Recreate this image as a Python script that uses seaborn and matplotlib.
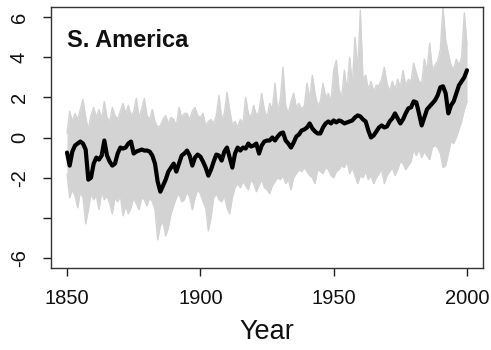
import numpy as np
import pandas as pd
import matplotlib
matplotlib.use("Agg")
import matplotlib.pyplot as plt
import seaborn as sns

# Annual temperature anomalies, South America, 1850-2000
years = list(range(1850, 2001))

# Reconstruction (thick black line)
recon = [
    -0.75, -1.4, -0.7, -0.4, -0.3, -0.2, -0.3, -0.6, -2.1, -2.0,   # 1850s
    -1.3, -1.0, -1.1, -0.9, -0.15, -0.9, -1.2, -1.4, -1.3, -0.8,   # 1860s
    -0.5, -0.55, -0.5, -0.3, -0.2, -0.8, -0.7, -0.65, -0.6, -0.65, # 1870s
    -0.65, -0.7, -0.9, -1.3, -2.2, -2.7, -2.4, -2.1, -1.7, -1.5,   # 1880s
    -1.3, -1.7, -1.3, -0.9, -0.8, -0.65, -0.9, -1.4, -1.0, -0.85,  # 1890s
    -0.95, -1.2, -1.5, -1.9, -1.6, -1.2, -0.85, -0.9, -1.15, -0.7, # 1900s
    -0.5, -1.0, -1.5, -0.8, -0.5, -0.65, -0.5, -0.55, -0.3, -0.45, # 1910s
    -0.4, -0.3, -0.8, -0.4, -0.2, -0.15, -0.15, 0.0, -0.15, 0.05,  # 1920s
    0.2, 0.25, -0.15, -0.3, -0.5, -0.25, 0.05, 0.15, 0.35, 0.4,    # 1930s
    0.5, 0.7, 0.45, 0.3, 0.2, 0.2, 0.5, 0.7, 0.8, 0.7,             # 1940s
    0.85, 0.75, 0.85, 0.8, 0.7, 0.75, 0.8, 0.85, 1.0, 1.1,         # 1950s
    1.05, 0.9, 0.8, 0.35, 0.0, 0.1, 0.3, 0.5, 0.6, 0.5,            # 1960s
    0.55, 0.8, 0.95, 1.2, 0.95, 0.7, 0.9, 1.2, 1.45, 1.5,          # 1970s
    1.8, 1.75, 1.2, 0.6, 1.0, 1.4, 1.55, 1.7, 1.85, 2.1,           # 1980s
    2.5, 2.55, 2.2, 1.2, 1.6, 1.8, 2.2, 2.6, 2.8, 3.0,             # 1990s
    3.35,                                                          # 2000
]

# Upper edge of the ensemble spread (grey)
ens_upper = [
    0.2, 1.3, 0.8, 1.2, 0.9, 1.4, 1.9, 1.0, 0.4, 1.1,
    1.5, 1.0, 1.4, 0.9, 1.8, 1.0, 0.8, 1.5, 1.1, 0.9,
    1.3, 1.7, 1.2, 1.6, 1.1, 1.3, 1.95, 1.0, 1.4, 1.95,
    1.1, 0.9, 1.4, 0.8, 0.5, 0.6, 0.9, 1.1, 0.7, 1.0,
    0.9, 0.6, 1.5, 1.0, 1.2, 1.2, 0.9, 1.3, 1.5, 1.1,
    1.0, 1.2, 0.6, 0.8, 0.9, 0.7, 1.1, 2.1, 0.9, 1.2,
    2.25, 1.4, 0.6, 0.8, 0.5, 0.9, 0.7, 2.0, 1.2, 1.0,
    1.6, 1.1, 1.3, 2.2, 1.4, 1.0, 1.7, 1.4, 2.7, 1.3,
    1.9, 3.5, 1.6, 1.2, 1.8, 2.2, 1.5, 1.7, 1.4, 1.6,
    2.7, 1.9, 3.1, 2.2, 1.6, 1.8, 2.7, 2.0, 2.2, 1.8,
    3.35, 3.85, 2.4, 2.0, 3.35, 2.3, 4.0, 2.6, 5.0, 3.3,
    6.35, 2.9, 3.1, 2.4, 2.8, 2.3, 2.6, 2.6, 2.9, 3.5,
    2.7, 2.3, 2.8, 2.4, 2.9, 2.5, 3.35, 2.6, 2.9, 2.8,
    3.7, 3.2, 2.8, 2.7, 3.9, 3.3, 4.7, 3.4, 3.6, 3.8,
    4.4, 6.5, 4.85, 4.2, 3.6, 3.4, 3.9, 3.6, 4.0, 6.2,
    4.6,
]

# Lower edge of the ensemble spread (grey)
ens_lower = [
    -1.8, -3.0, -2.6, -2.9, -3.5, -2.7, -3.0, -4.3, -3.6, -2.8,
    -3.1, -2.9, -3.6, -2.7, -3.1, -2.9, -3.3, -3.8, -3.0, -3.2,
    -2.9, -3.9, -3.4, -3.8, -3.5, -3.0, -3.3, -3.6, -3.0, -3.1,
    -3.4, -3.0, -3.2, -3.6, -5.1, -4.4, -4.2, -4.9, -4.5, -3.8,
    -3.4, -3.0, -2.8, -3.2, -3.1, -2.7, -3.0, -3.6, -3.0, -2.6,
    -2.8, -3.2, -3.5, -4.65, -4.0, -3.0, -2.8, -3.1, -3.2, -2.9,
    -3.5, -3.8, -3.0, -2.5, -2.3, -2.5, -2.2, -2.4, -2.6, -2.1,
    -2.3, -2.7, -2.4, -2.1, -2.5, -2.6, -2.8, -2.4, -2.2, -2.0,
    -2.1, -1.9, -2.3, -2.1, -2.6, -2.0, -1.8, -1.6, -1.7, -1.5,
    -1.7, -1.9, -2.0, -2.3, -1.6, -1.7, -1.8, -1.5, -1.6, -1.9,
    -2.0, -1.7, -1.6, -1.4, -1.5, -1.2, -1.8, -1.5, -1.9, -2.3,
    -1.9, -2.0, -1.7, -2.1, -1.9, -2.3, -2.0, -1.8, -1.6, -2.3,
    -1.9, -1.7, -1.5, -1.9, -1.6, -1.2, -1.3, -1.6, -1.4, -1.2,
    -0.6, -0.9, -0.6, -1.0, -0.7, -0.9, -1.1, -0.5, -0.4, -0.5,
    -0.8, -1.5, -1.4, -0.8, -0.2, -0.3, 0.0, 0.4, 0.8, 1.4,
    1.8,
]

x_ticks = [1850, 1900, 1950, 2000]
y_ticks = [-6, -4, -2, 0, 2, 4, 6]
y_tick_labels = ["-6", "", "-2", "0", "2", "4", "6"]
region_title = "S. America"
x_label = "Year"

df = pd.DataFrame({"year": years, "recon": recon,
                   "upper": ens_upper, "lower": ens_lower})

sns.set_style("white")
plt.rcParams["font.family"] = ["Liberation Sans", "DejaVu Sans"]

fig = plt.figure(figsize=(4.91, 3.5), dpi=100)
ax = fig.add_axes([51 / 491, 1 - 268 / 350, 432 / 491, 261 / 350])

grey = "#d3d3d3"
ax.fill_between(df["year"], df["lower"], df["upper"], color=grey, lw=0, zorder=1)
sns.lineplot(data=df, x="year", y="upper", color=grey, lw=1.0, ax=ax, zorder=2)
sns.lineplot(data=df, x="year", y="lower", color=grey, lw=1.0, ax=ax, zorder=2)
sns.lineplot(data=df, x="year", y="recon", color="black", lw=3.0, ax=ax, zorder=3)

ax.set_xlim(1844, 2006)
ax.set_ylim(-6.5, 6.5)
ax.set_xticks(x_ticks)
ax.set_xticklabels([str(t) for t in x_ticks])
ax.set_yticks(y_ticks)
ax.set_yticklabels(y_tick_labels, rotation=90, va="center")

ax.tick_params(axis="both", which="major", direction="out", length=6,
               width=1.0, color="#222222", labelsize=14.5, labelcolor="#111111",
               bottom=True, left=True)
ax.tick_params(axis="x", pad=9)
ax.tick_params(axis="y", pad=10)

for side in ["left", "right", "top", "bottom"]:
    ax.spines[side].set_visible(True)
    ax.spines[side].set_color("#333333")
    ax.spines[side].set_linewidth(1.0)

ax.set_ylabel("")
ax.set_xlabel(x_label, fontsize=19.5, color="#111111", labelpad=8)

ax.text(0.037, 0.847, region_title, transform=ax.transAxes, fontsize=17,
        fontweight="bold", color="#111111", ha="left", va="baseline")

fig.savefig("out.png", dpi=100)
